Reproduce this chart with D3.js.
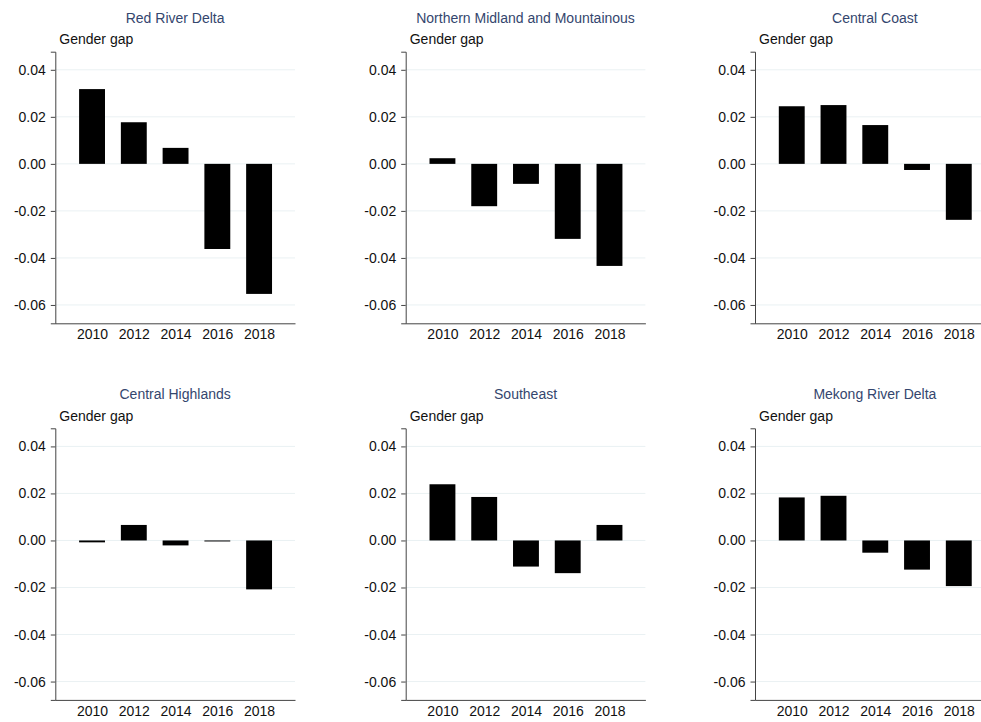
<!DOCTYPE html>
<html>
<head>
<meta charset="utf-8">
<script src="https://cdn.jsdelivr.net/npm/d3@7"></script>
<style>
  body { margin: 0; background: #fff; }
  svg { display: block; font-family: "Liberation Sans", Arial, sans-serif; }
</style>
</head>
<body>
<svg id="chart" width="981" height="722"></svg>
<script>
// data
const years = [2010, 2012, 2014, 2016, 2018];
const regions = ["Red River Delta", "Northern Midland and Mountainous", "Central Coast",
  "Central Highlands", "Southeast", "Mekong River Delta"];
const redRiver = [0.0318, 0.0177, 0.0068, -0.0362, -0.0553];
const northMidland = [0.0024, -0.0180, -0.0085, -0.0319, -0.0434];
const centralCoast = [0.0245, 0.0250, 0.0165, -0.0026, -0.0238];
const centralHighlands = [-0.0008, 0.0066, -0.0021, -0.0004, -0.0208];
const southeast = [0.0239, 0.0185, -0.0111, -0.0139, 0.0066];
const mekong = [0.0183, 0.0190, -0.0052, -0.0124, -0.0194];
const yTicks = [0.04, 0.02, 0.00, -0.02, -0.04, -0.06];
const seriesList = [redRiver, northMidland, centralCoast, centralHighlands, southeast, mekong];

const colX = [55.3, 405.7, 755];
const rowY = [51.7, 428.3];
const pw = 239.7, ph = 271.6;

const svg = d3.select("#chart");

const xScale = d3.scaleLinear().domain([2008.24, 2019.72]).range([0, pw]);
const yScale = d3.scaleLinear().domain([-0.0678, 0.0477]).range([ph, 0]);
const fmt = (d) => d3.format(".2f")(d).replace("\u2212", "-");

regions.forEach((name, i) => {
  const g = svg.append("g")
    .attr("transform", `translate(${colX[i % 3]}, ${rowY[Math.floor(i / 3)]})`);

  // gridlines
  g.selectAll(".grid")
    .data(yTicks)
    .join("line")
    .attr("x1", 0).attr("x2", pw)
    .attr("y1", (d) => yScale(d)).attr("y2", (d) => yScale(d))
    .attr("stroke", "#eaf1f3")
    .attr("stroke-width", 1);

  // bars
  const vals = seriesList[i];
  g.selectAll(".bar")
    .data(years.map((y, k) => ({ year: y, v: vals[k] })))
    .join("rect")
    .attr("x", (d) => xScale(d.year - 0.62))
    .attr("width", (d) => xScale(d.year + 0.62) - xScale(d.year - 0.62))
    .attr("y", (d) => yScale(Math.max(0, d.v)))
    .attr("height", (d) => Math.max(1, Math.abs(yScale(d.v) - yScale(0))))
    .attr("fill", "#000");

  // y axis
  const yAxis = g.append("g")
    .call(d3.axisLeft(yScale).tickValues(yTicks).tickFormat(fmt).tickSizeOuter(0).tickSize(4.5).tickPadding(5));
  yAxis.select(".domain").attr("stroke", "#444");
  yAxis.selectAll(".tick line").attr("stroke", "#444");
  yAxis.selectAll("text").attr("font-size", 14).attr("fill", "#111")
    .attr("font-family", "Liberation Sans, Arial, sans-serif");

  // x axis
  const xAxis = g.append("g")
    .attr("transform", `translate(0, ${ph})`)
    .call(d3.axisBottom(xScale).tickValues(years).tickFormat(d3.format("d")).tickSize(0).tickSizeOuter(0).tickPadding(6));
  xAxis.select(".domain").attr("stroke", "#444");
  xAxis.selectAll("text").attr("font-size", 14).attr("fill", "#111")
    .attr("font-family", "Liberation Sans, Arial, sans-serif");

  // titles
  g.append("text")
    .attr("x", pw / 2)
    .attr("y", -29)
    .attr("text-anchor", "middle")
    .attr("font-size", 14)
    .attr("fill", "#34466e")
    .text(name);

  g.append("text")
    .attr("x", 4)
    .attr("y", -7.5)
    .attr("font-size", 14)
    .attr("fill", "#111")
    .text("Gender gap");
});
</script>
</body>
</html>
